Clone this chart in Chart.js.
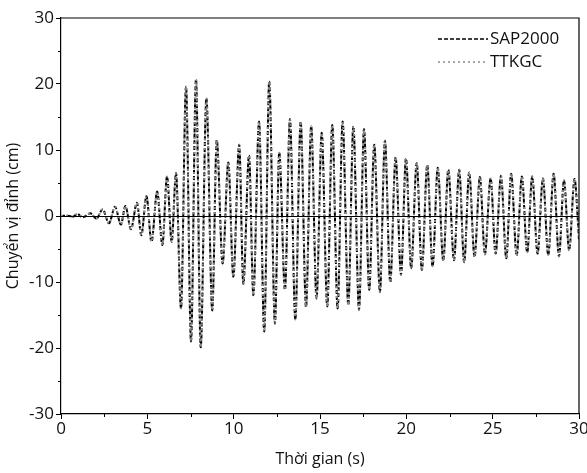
<!DOCTYPE html>
<html><head><meta charset="utf-8">
<script src="https://cdn.jsdelivr.net/npm/chart.js@4/dist/chart.umd.min.js"></script>
<style>html,body{margin:0;padding:0;background:#fff}#wrap{width:587px;height:473px}</style>
</head><body><div id="wrap"><canvas id="c" width="587" height="473"></canvas></div>
<script>
const times = [0,0.4,0.7,0.95,1.25,1.7,2.05,
 2.41,2.78,3.13,3.47,3.73,4.05,4.40,4.65,4.95,5.24,5.57,5.87,6.14,6.41,6.66,
 6.95,7.24,7.53,7.82,8.09,8.42,8.76,9.02,9.36,9.69,
 9.98,10.32,10.56,10.89,11.14,11.47,11.77,12.06,12.39,12.64,
 12.97,13.26,13.57,13.88,14.19,14.49,14.80,15.10,15.42,15.71,
 16.02,16.31,16.64,16.93,17.26,17.55,17.85,18.14,18.47,18.76,
 19.07,19.38,19.69,19.98,20.28,20.60,20.90,21.21,21.52,21.82,
 22.14,22.43,22.76,23.06,23.35,23.64,23.95,24.26,24.55,24.88,
 25.17,25.48,25.79,26.07,26.39,26.69,27.00,27.29,27.60,27.91,
 28.22,28.53,28.84,29.13,29.43,29.74,30];
const sap2000Values = [0,0.05,-0.1,0.3,-0.2,0.4,-0.4,
 1.0,-1.1,1.4,-1.3,1.5,-2.0,2.0,-2.9,3.0,-3.9,3.7,-4.4,6.0,-3.9,6.5,
 -14.0,19.6,-19.0,20.7,-19.9,17.8,-14.3,11.5,-7.2,8.1,
 -9.2,10.8,-10.3,9.2,-12.0,14.3,-17.5,20.4,-16.3,9.6,
 -11.2,14.7,-15.7,14.3,-13.8,13.6,-12.5,12.6,-13.7,13.8,
 -14.0,14.3,-13.5,13.6,-14.2,13.2,-11.2,10.8,-11.5,11.4,
 -10.0,8.9,-8.9,8.7,-7.9,8.0,-8.2,7.7,-7.6,7.3,
 -6.8,7.0,-6.7,7.0,-7.0,6.6,-6.2,5.9,-5.8,5.7,
 -5.7,6.1,-6.4,6.4,-6.0,6.0,-5.5,6.0,-5.7,5.7,
 -5.9,6.4,-6.1,5.4,-5.2,5.6,-3.5];
const ttkgcValues = [0,0.05,-0.1,0.3,-0.2,0.4,-0.4,
 1.0,-1.1,1.4,-1.3,1.5,-2.0,2.0,-2.9,3.0,-3.9,3.7,-4.4,6.0,-3.9,6.5,
 -14.0,19.6,-19.0,20.7,-19.9,17.8,-14.3,11.5,-7.2,8.1,
 -9.2,10.8,-10.3,9.2,-12.0,14.3,-17.5,20.4,-16.3,9.6,
 -11.2,14.7,-15.7,14.3,-13.8,13.6,-12.5,12.6,-13.7,13.8,
 -14.0,14.3,-13.5,13.6,-14.2,13.2,-11.2,10.8,-11.5,11.4,
 -10.0,8.9,-8.9,8.7,-7.9,8.0,-8.2,7.7,-7.6,7.3,
 -6.8,7.0,-6.7,7.0,-7.0,6.6,-6.2,5.9,-5.8,5.7,
 -5.7,6.1,-6.4,6.4,-6.0,6.0,-5.5,6.0,-5.7,5.7,
 -5.9,6.4,-6.1,5.4,-5.2,5.6,-3.5];
const seriesNames = ['SAP2000', 'TTKGC'];
const xMinorTicks = [2.5,7.5,12.5,17.5,22.5,27.5];
const yMinorTicks = [-25,-15,-5,5,15,25];

const FONT = '"Open Sans", sans-serif';
const TXT = '#111111';
const sapStyle = {color:'#000000', dash:[4,2], width:2};
const ttkStyle = {color:'#8a8a8a', dash:[2,3], width:2};

const toPts = vals => times.map((t,i)=>({x:t, y:vals[i]}));

const framePlugin = {
  id:'frame',
  afterDatasetsDraw(chart){
    const {ctx, chartArea:a, scales:{x,y}} = chart;
    ctx.save();
    ctx.strokeStyle = '#000'; ctx.lineWidth = 1.2; ctx.setLineDash([]);
    const y0 = Math.round(y.getPixelForValue(0)) + 0.5;
    ctx.beginPath(); ctx.moveTo(a.left, y0); ctx.lineTo(a.right, y0); ctx.stroke();
    ctx.beginPath(); ctx.moveTo(a.left, a.top); ctx.lineTo(a.right, a.top); ctx.lineTo(a.right, a.bottom); ctx.stroke();
    ctx.lineWidth = 1;
    xMinorTicks.forEach(v=>{const px=Math.round(x.getPixelForValue(v))+0.5; ctx.beginPath(); ctx.moveTo(px,a.bottom); ctx.lineTo(px,a.bottom+3); ctx.stroke();});
    yMinorTicks.forEach(v=>{const py=Math.round(y.getPixelForValue(v))+0.5; ctx.beginPath(); ctx.moveTo(a.left,py); ctx.lineTo(a.left-3,py); ctx.stroke();});
    const items = [[seriesNames[0], sapStyle, a.top+21],[seriesNames[1], ttkStyle, a.top+44]];
    ctx.font = '17px ' + FONT; ctx.textBaseline = 'middle'; ctx.textAlign='left';
    items.forEach(([name, st, ly])=>{
      ctx.strokeStyle = st.color; ctx.lineWidth = 1.5; ctx.setLineDash(st.dash);
      ctx.beginPath(); ctx.moveTo(a.right-141, ly); ctx.lineTo(a.right-91, ly); ctx.stroke();
      ctx.setLineDash([]);
      ctx.fillStyle = TXT; ctx.fillText(name, a.right-89, ly);
    });
    ctx.restore();
  }
};

new Chart(document.getElementById('c'), {
  type:'line',
  data:{
    datasets:[
      {label:seriesNames[1], data:toPts(ttkgcValues), borderColor:ttkStyle.color, borderDash:ttkStyle.dash, borderWidth:ttkStyle.width, pointRadius:0, cubicInterpolationMode:'monotone', fill:false},
      {label:seriesNames[0], data:toPts(sap2000Values), borderColor:sapStyle.color, borderDash:sapStyle.dash, borderWidth:sapStyle.width, pointRadius:0, cubicInterpolationMode:'monotone', fill:false}
    ]
  },
  options:{
    responsive:false, animation:false, devicePixelRatio:1,
    layout:{padding:{top:18, right:8, left:0, bottom:0}},
    plugins:{legend:{display:false}, tooltip:{enabled:false}},
    scales:{
      x:{type:'linear', min:0, max:30,
        ticks:{stepSize:5, color:TXT, font:{family:FONT, size:17}, padding:0, maxRotation:0},
        grid:{drawOnChartArea:false, tickLength:5, color:'#000', tickColor:'#000'},
        border:{color:'#000', width:1.2},
        title:{display:true, text:'Thời gian (s)', color:TXT, font:{family:FONT, size:16}, padding:{top:3}},
        afterFit(s){ s.height = 59; s.paddingLeft=0; s.paddingRight=0; }
      },
      y:{type:'linear', min:-30, max:30,
        ticks:{stepSize:10, color:TXT, font:{family:FONT, size:17}, padding:2},
        grid:{drawOnChartArea:false, tickLength:5, color:'#000', tickColor:'#000'},
        border:{color:'#000', width:1.2},
        title:{display:true, text:'Chuyển vị đỉnh (cm)', color:TXT, font:{family:FONT, size:16}, padding:{bottom:0}},
        afterFit(s){ s.width = 61; s.paddingTop=0; s.paddingBottom=0; }
      }
    }
  },
  plugins:[framePlugin]
});
</script></body></html>
